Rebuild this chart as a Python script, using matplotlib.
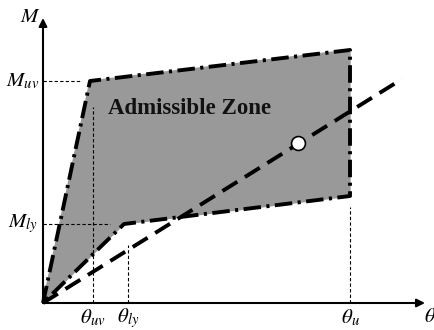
import matplotlib
matplotlib.use("Agg")
import matplotlib.pyplot as plt

# data (arbitrary units)
zone_theta = [0, 47, 307, 307, 81, 0]
zone_M = [0, 222, 253, 107, 79, 0]

theta_uv = 50
theta_ly = 85
theta_u = 307
M_uv = 222
M_ly = 79

demand_theta = [0, 359]
demand_M = [0, 224]

point_theta = [255]
point_M = [160]

plt.rcParams["mathtext.fontset"] = "stix"
plt.rcParams["font.family"] = "Liberation Serif"

fig = plt.figure(figsize=(4.35, 3.3), dpi=100)
ax = fig.add_axes([0, 0, 1, 1])
ax.set_xlim(-43, 392)
ax.set_ylim(-27, 303)
ax.axis("off")

# admissible zone
ax.fill(zone_theta, zone_M, color="#999999", zorder=1)
ax.plot(zone_theta, zone_M, color="black", lw=2.8,
        linestyle=(0, (4.5, 1.4, 0.8, 1.4)), zorder=3)

# reference lines
thin = dict(color="black", lw=0.8, linestyle=(0, (3, 2)), zorder=2)
ax.plot([0, 39], [M_uv, M_uv], **thin)
ax.plot([0, 67], [M_ly, M_ly], **thin)
ax.plot([theta_uv, theta_uv], [0, 196], **thin)
ax.plot([theta_ly, theta_ly], [0, 58], **thin)
ax.plot([theta_u, theta_u], [0, 96], **thin)

# demand line and point
ax.plot(demand_theta, demand_M, color="black", lw=2.8,
        linestyle=(0, (4.5, 2.3)), zorder=4)
ax.plot(point_theta, point_M, "o", ms=10, mfc="white", mec="black",
        mew=1.2, zorder=5)

# axes arrows
arrow = dict(arrowstyle="-|>", color="black", lw=1.5,
             mutation_scale=12, shrinkA=0, shrinkB=0)
ax.annotate("", xy=(382, 0), xytext=(0, 0), arrowprops=arrow)
ax.annotate("", xy=(0, 285), xytext=(0, 0), arrowprops=arrow)

ax.text(147, 195, "Admissible Zone", fontsize=16.5, fontweight="bold",
        ha="center", va="center", color="#111111", zorder=6)

lab = dict(fontsize=15, color="black")
ax.text(-13, 286, "$M$", ha="center", va="center", **lab)
ax.text(-20, M_uv, "$M_{uv}$", ha="center", va="center", **lab)
ax.text(-20, M_ly, "$M_{ly}$", ha="center", va="center", **lab)
ax.text(theta_uv, -15, r"$\theta_{uv}$", ha="center", va="center", **lab)
ax.text(theta_ly, -15, r"$\theta_{ly}$", ha="center", va="center", **lab)
ax.text(theta_u, -15, r"$\theta_{u}$", ha="center", va="center", **lab)
ax.text(387, -15, r"$\theta$", ha="center", va="center", **lab)

fig.savefig("out.png", dpi=100)
